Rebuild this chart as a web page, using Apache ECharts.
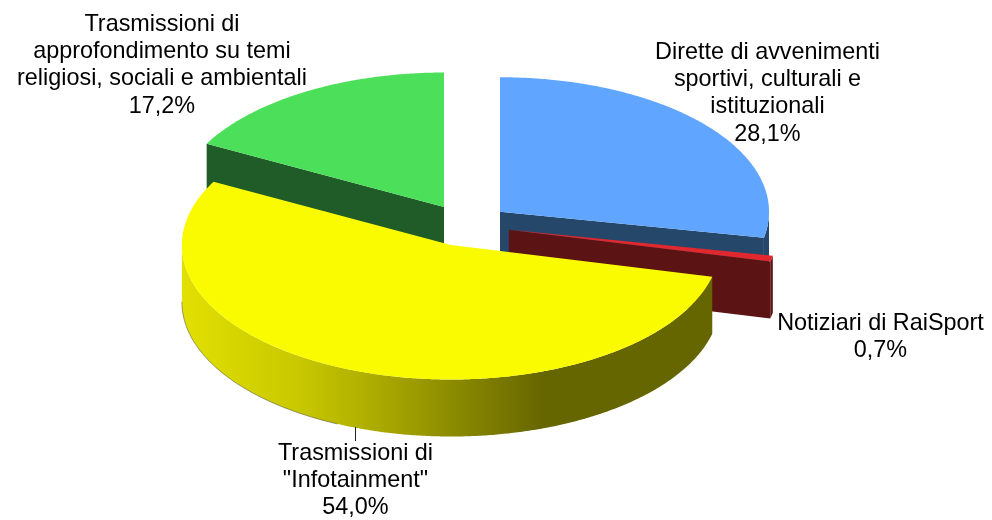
<!DOCTYPE html>
<html><head><meta charset="utf-8">
<style>html,body{margin:0;padding:0;background:#fff}#c{width:992px;height:520px}</style>
<script src="https://cdn.jsdelivr.net/npm/echarts@6/dist/echarts.min.js"></script>
</head><body><div id="c"></div>
<script>
const categories = ['Dirette di avvenimenti\nsportivi, culturali e\nistituzionali', 'Notiziari di RaiSport', 'Trasmissioni di\n"Infotainment"', 'Trasmissioni di\napprofondimento su temi\nreligiosi, sociali e ambientali'];
const shareValues = [28.1, 0.7, 54.0, 17.2];
const topColors = ['#60A5FF', '#E0282E', '#FBFB00', '#4CE05A'];
const sideColors = ['#25476A', '#5C1313', '#666600', '#1F5C27'];
const labelAnchors = [[767.5, 38.5], [880.5, 309.5], [355.5, 439.5], [162, 10.5]];
const paintOrder = [3, 0, 1, 2];

const O = {x: 466.4, y: 225.2}, RX = 269, RY = 134.5, DEPTH = 57, EX = 43.5, EY = 21.2;
const total = shareValues.reduce((a, b) => a + b, 0);
const starts = []; shareValues.reduce((acc, v, i) => (starts[i] = acc, acc + v), 0);
const rad = d => d * Math.PI / 180;

function renderItem(params, api) {
  const i = api.value(0), v = api.value(1);
  const a0 = starts[i] / total * 360, a1 = (starts[i] + v) / total * 360, mid = (a0 + a1) / 2;
  const cx = O.x + EX * Math.sin(rad(mid)), cy = O.y - EY * Math.cos(rad(mid));
  const pt = (a, dz = 0) => [cx + RX * Math.sin(rad(a)), cy - RY * Math.cos(rad(a)) + dz];
  const arc = (s, e, dz = 0) => { const n = Math.max(2, Math.ceil(Math.abs(e - s) * 2)), r = []; for (let k = 0; k <= n; k++) r.push(pt(s + (e - s) * k / n, dz)); return r; };
  const children = [];
  const side = i === 2
    ? new echarts.graphic.LinearGradient(182, 0, 713, 0, [{offset: 0, color: '#E2E000'}, {offset: 0.22, color: '#C8C800'}, {offset: 0.345, color: '#B0AF00'}, {offset: 0.68, color: '#666600'}, {offset: 1, color: '#666600'}], true)
    : sideColors[i];
  // cut face that looks towards the viewer: the end edge on the right, the start edge on the left
  const faceAngle = a1 < 180 ? a1 : (a0 > 180 ? a0 : null);
  if (faceAngle !== null) {
    const e = pt(faceAngle);
    children.push({type: 'polygon', shape: {points: [[cx, cy], e, [e[0], e[1] + DEPTH], [cx, cy + DEPTH]]}, style: {fill: sideColors[i]}});
  }
  // outer wall (front half only)
  const w0 = Math.max(a0, 90), w1 = Math.min(a1, 270);
  if (w1 > w0) {
    const pts = arc(w0, w1).concat(arc(w1, w0, DEPTH));
    children.push({type: 'polygon', shape: {points: pts}, style: {fill: side}});
  }
  // thin shaded edge along the lit lower-left rim
  if (i === 2) children.push({type: 'polyline', shape: {points: arc(205, 270, DEPTH)}, style: {stroke: 'rgba(70,70,60,0.65)', lineWidth: 0.8, fill: 'none'}});
  // top face
  children.push({type: 'polygon', shape: {points: [[cx, cy]].concat(arc(a0, a1))}, style: {fill: topColors[i]}});
  // label
  const pct = v.toFixed(1).replace('.', ',') + '%';
  const a = labelAnchors[i];
  children.push({type: 'text', z2: 50, style: {text: categories[i] + '\n' + pct, x: a[0], y: a[1], fill: '#000', align: 'center', verticalAlign: 'top', font: '23.4px "Liberation Sans", Arial, sans-serif', lineHeight: 27.4}});
  if (i === 2) children.push({type: 'line', z2: 50, shape: {x1: 355.5, y1: 427, x2: 355.5, y2: 441}, style: {stroke: '#222', lineWidth: 1}});
  return {type: 'group', children};
}

const chart = echarts.init(document.getElementById('c'), null, {renderer: 'canvas'});
chart.setOption({
  animation: false,
  backgroundColor: '#fff',
  series: [{type: 'custom', coordinateSystem: 'none', silent: true, renderItem,
    data: paintOrder.map(i => [i, shareValues[i]])}]
});
</script></body></html>
